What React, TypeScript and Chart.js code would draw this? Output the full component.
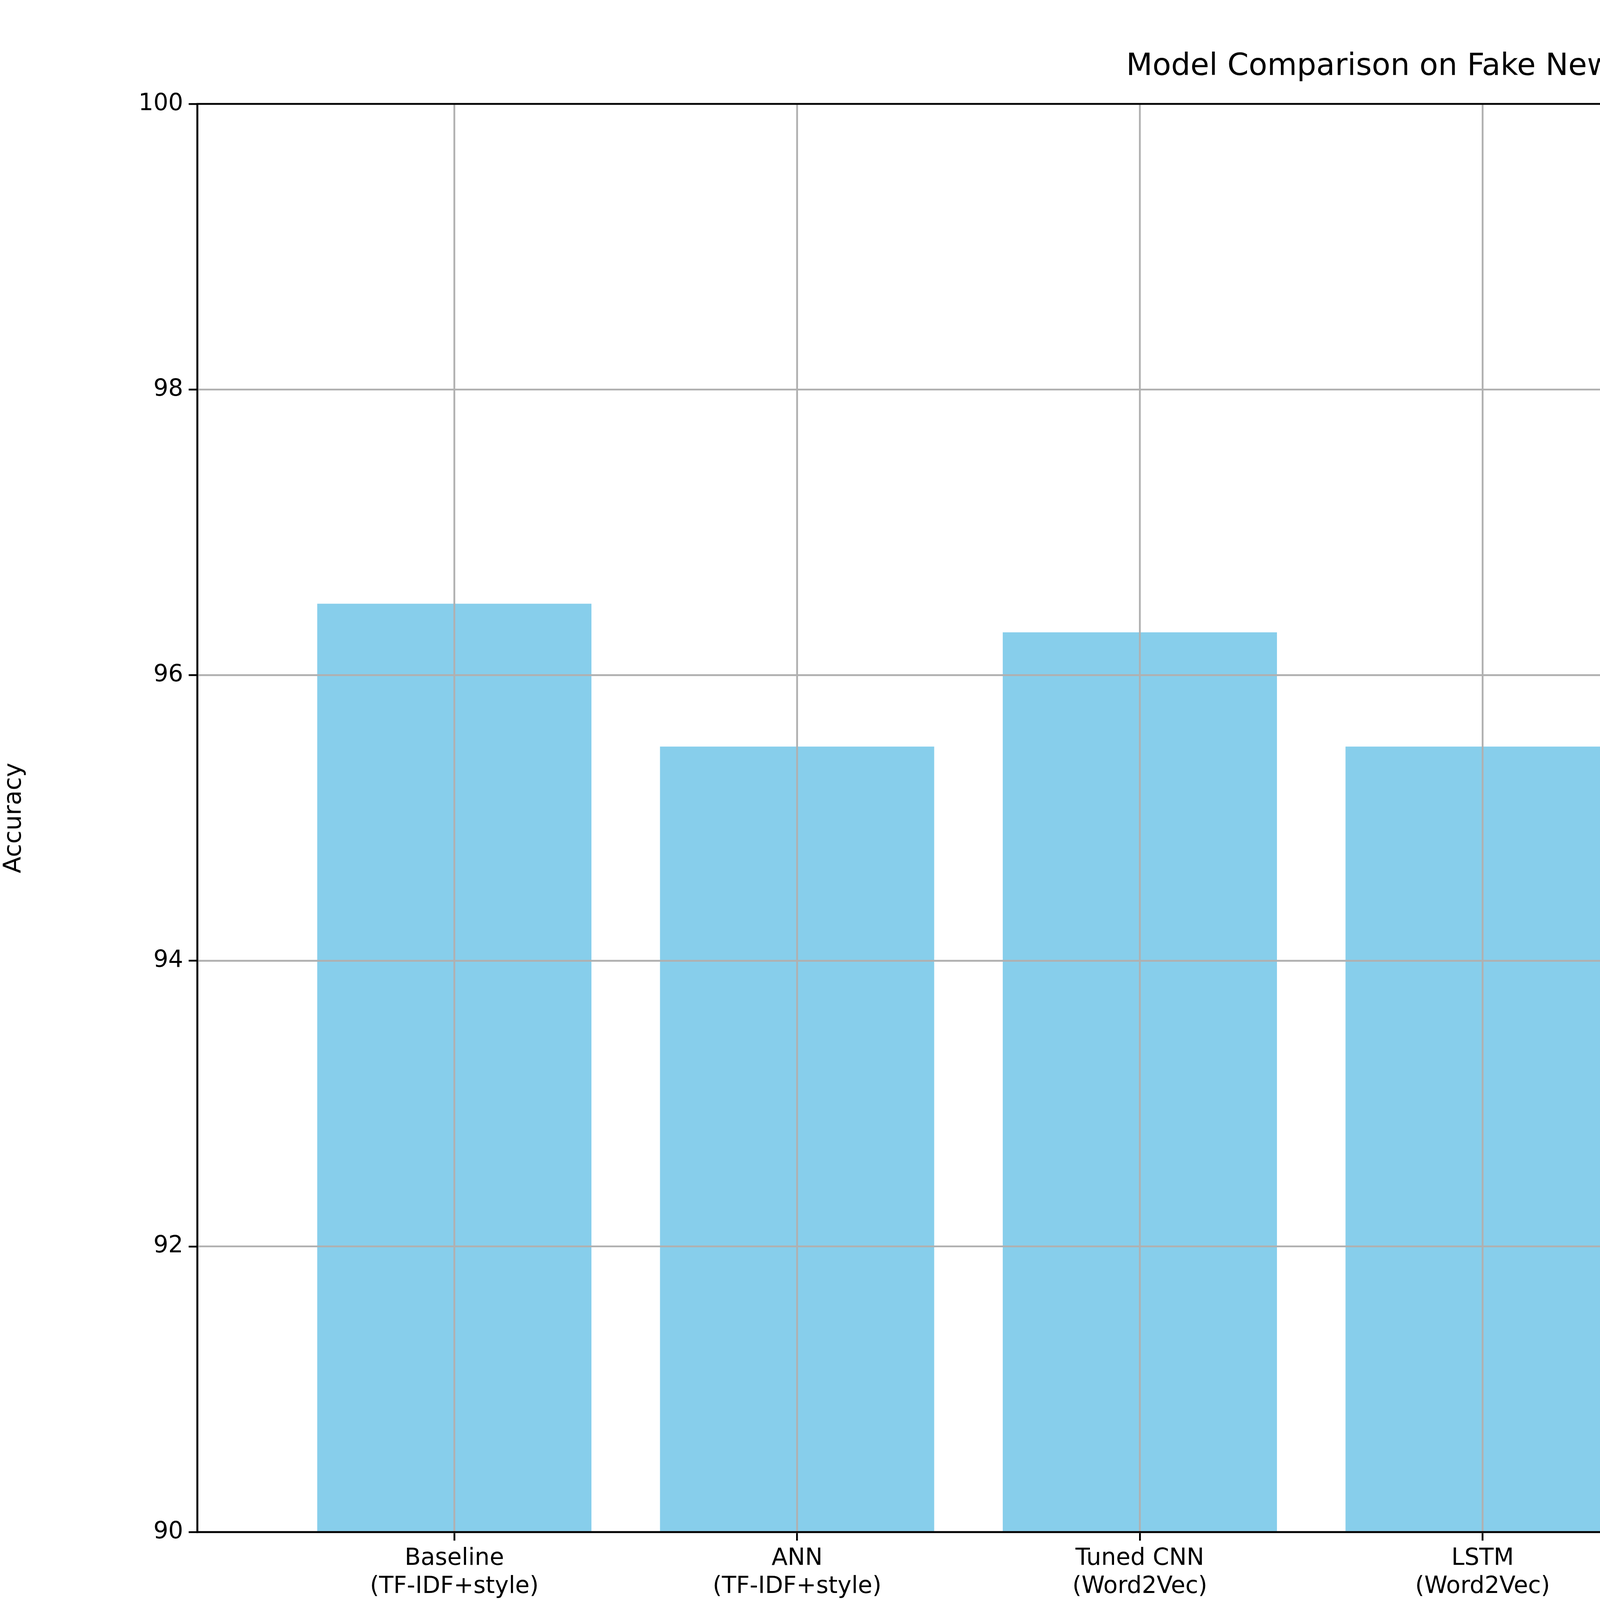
import React, { useEffect, useRef } from "react";
import { Chart, registerables } from "chart.js";
Chart.register(...registerables);

const categories: string[][] = [
  ["Baseline", "(TF-IDF+style)"],
  ["ANN", "(TF-IDF+style)"],
  ["Tuned CNN", "(Word2Vec)"],
  ["LSTM", "(Word2Vec)"],
  ["GRU", "(Word2Vec)"],
  ["CNN", "(GloVe)"],
  ["GRU", "(GloVe)"],
];
const accuracy: number[] = [96.5, 95.5, 96.3, 95.5, 96.3, 95.8, 94.8];
const yTicks: number[] = [90, 92, 94, 96, 98, 100];
const title = "Model Comparison on Fake News Classification";

const FONT = "'DejaVu Sans', sans-serif";

const overlay = {
  id: "overlay",
  afterDatasetsDraw(chart: any) {
    const { ctx, chartArea: a, scales } = chart;
    ctx.save();
    ctx.strokeStyle = "#b0b0b0";
    ctx.lineWidth = 4.6;
    scales.x.ticks.forEach((t: any) => {
      const px = scales.x.getPixelForValue(t.value);
      ctx.beginPath(); ctx.moveTo(px, a.top); ctx.lineTo(px, a.bottom); ctx.stroke();
    });
    scales.y.ticks.forEach((t: any) => {
      const py = scales.y.getPixelForValue(t.value);
      ctx.beginPath(); ctx.moveTo(a.left, py); ctx.lineTo(a.right, py); ctx.stroke();
    });
    ctx.strokeStyle = "#000";
    ctx.lineWidth = 4.6;
    ctx.strokeRect(a.left, a.top, a.right - a.left, a.bottom - a.top);
    ctx.fillStyle = "#000";
    ctx.font = `78px ${FONT}`;
    ctx.textAlign = "center";
    ctx.textBaseline = "middle";
    ctx.fillText(title, (a.left + a.right) / 2, 172);
    ctx.restore();
  },
};

export default function App() {
  const ref = useRef<HTMLCanvasElement>(null);
  useEffect(() => {
    const chart = new Chart(ref.current!, {
      type: "bar",
      data: {
        datasets: [
          {
            data: accuracy.map((v, i) => ({ x: i, y: v })),
            backgroundColor: "#87CEEB",
            categoryPercentage: 1,
            barPercentage: 0.8,
          },
        ],
      },
      options: {
        animation: false,
        responsive: false,
        devicePixelRatio: 1,
        layout: { padding: { top: 266, right: 114, left: 0, bottom: 0 } },
        plugins: { legend: { display: false }, tooltip: { enabled: false }, title: { display: false } },
        scales: {
          x: {
            type: "linear",
            offset: false,
            min: -0.75,
            max: 6.75,
            afterBuildTicks: (s: any) => { s.ticks = categories.map((_, i) => ({ value: i })); },
            afterFit: (s: any) => { s.height = 398; },
            ticks: {
              autoSkip: false,
              maxRotation: 0,
              color: "#000",
              font: { family: FONT, size: 60 },
              padding: 10,
              callback: (v: any) => categories[v] ?? "",
            },
            grid: { offset: false, drawOnChartArea: false, drawTicks: true, tickLength: 22, color: "#000", lineWidth: 4.6 },
            border: { display: true, color: "#000", width: 4.6 },
          },
          y: {
            min: 90,
            max: 100,
            afterBuildTicks: (s: any) => { s.ticks = yTicks.map((v) => ({ value: v })); },
            afterFit: (s: any) => { s.width = 505; },
            ticks: { color: "#000", font: { family: FONT, size: 60 }, padding: 14 },
            grid: { drawOnChartArea: false, drawTicks: true, tickLength: 22, color: "#000", lineWidth: 4.6 },
            border: { display: true, color: "#000", width: 4.6 },
            title: { display: true, text: "Accuracy", color: "#000", font: { family: FONT, size: 62 }, padding: { top: 0, bottom: 40 } },
          },
        },
      },
      plugins: [overlay],
    } as any);
    return () => chart.destroy();
  }, []);
  return (
    <div style={{ position: "absolute", left: 0, top: 0, width: 7200, height: 4320, background: "#fff" }}>
      <canvas ref={ref} width={7200} height={4320} />
    </div>
  );
}
